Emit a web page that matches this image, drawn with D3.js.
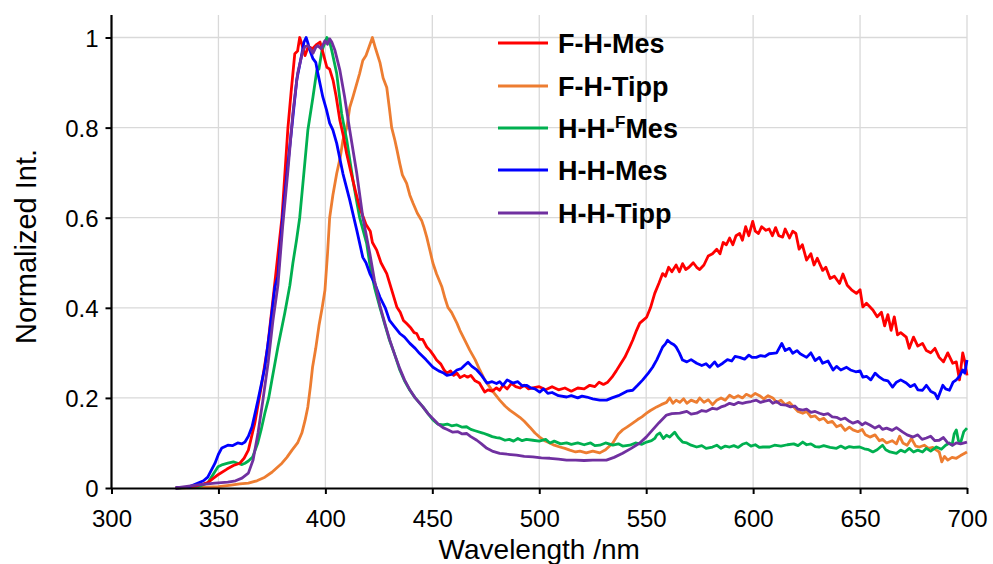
<!DOCTYPE html>
<html><head><meta charset="utf-8">
<script src="https://cdn.jsdelivr.net/npm/d3@7"></script>
<style>body{margin:0;background:#fff}svg{display:block}text{font-family:"Liberation Sans",Arial,sans-serif}</style>
</head><body>
<svg id="c" width="993" height="564"></svg>
<script>
const seriesNames = ["F-H-Mes","F-H-Tipp","H-H-FMes","H-H-Mes","H-H-Tipp"];
const seriesColors = ["#FF0000","#ED7D31","#00B050","#0000FF","#7030A0"];
const xTicks = [300,350,400,450,500,550,600,650,700];
const yTicks = [0,0.2,0.4,0.6,0.8,1];
const yTickLabels = ["0","0.2","0.4","0.6","0.8","1"];

const fhMes = [[330,0],[335,0.002],[340,0.005],[345,0.012],[350,0.03],[354,0.042],[357,0.05],[360,0.055],[362,0.066],[364,0.084],[367,0.144],[370,0.224],[373,0.313],[376,0.44],[379.7,0.60],[382.5,0.80],[384,0.88],[385.7,0.964],[387,0.97],[388,1.0],[389,0.985],[390.5,0.96],[392,0.98],[394,0.975],[396,0.985],[397.5,0.99],[399,0.964],[400.7,0.934],[402,0.93],[403.6,0.905],[405,0.87],[406.8,0.816],[408.5,0.78],[409.9,0.743],[412,0.70],[414,0.66],[416,0.623],[419,0.585],[421,0.57],[422,0.545],[424,0.528],[426,0.50],[428.7,0.476],[431,0.44],[433.4,0.402],[435,0.39],[436.5,0.372],[438,0.365],[440,0.355],[441.5,0.345],[442.7,0.343],[444,0.33],[445.5,0.33],[447.4,0.313],[449,0.305],[450.5,0.295],[452,0.284],[454,0.275],[455.5,0.262],[456.8,0.255],[458.5,0.26],[460,0.25],[461.5,0.255],[463,0.245],[465,0.25],[466.5,0.246],[468,0.25],[470,0.238],[472,0.233],[474.5,0.213],[476,0.218],[478,0.215],[480,0.222],[481.5,0.217],[483,0.228],[485,0.22],[487,0.232],[489,0.225],[491,0.222],[493,0.228],[495,0.22],[497,0.222],[500,0.225],[503,0.218],[506,0.225],[509,0.218],[512,0.222],[515,0.215],[518,0.222],[521,0.22],[523.6,0.228],[526,0.225],[528,0.235],[530,0.23],[532,0.235],[534,0.246],[536,0.26],[538,0.275],[540,0.29],[542,0.31],[543.7,0.328],[545.5,0.35],[547,0.366],[548.5,0.372],[550.2,0.379],[552,0.40],[554,0.432],[556,0.455],[557.7,0.476],[559,0.47],[560.5,0.49],[562,0.48],[564,0.495],[565.5,0.48],[567,0.498],[568.5,0.485],[570,0.49],[572,0.5],[573.6,0.49],[575,0.485],[577,0.495],[579,0.515],[581,0.52],[583,0.53],[584.5,0.52],[586,0.545],[587.5,0.54],[589,0.555],[590.5,0.54],[592,0.56],[593.7,0.565],[595,0.55],[596.5,0.58],[598,0.56],[599.8,0.592],[601,0.57],[602.5,0.565],[604,0.58],[606,0.572],[607.5,0.575],[609,0.56],[610.5,0.578],[612,0.56],[613.8,0.557],[615,0.575],[617,0.555],[618.5,0.57],[620,0.565],[621.5,0.53],[623,0.54],[625,0.506],[627,0.52],[628.5,0.495],[630,0.51],[632.5,0.483],[634,0.49],[636,0.465],[638,0.47],[640.4,0.454],[642,0.475],[644,0.45],[646,0.44],[648.3,0.432],[650,0.44],[651.3,0.402],[653,0.41],[656,0.395],[658,0.38],[660,0.39],[661.5,0.36],[663,0.385],[664.5,0.35],[666,0.38],[667.5,0.34],[669,0.345],[671.6,0.335],[673,0.31],[675,0.335],[677,0.315],[679.2,0.321],[681,0.305],[683,0.3],[685,0.31],[687,0.29],[689,0.28],[691,0.3],[693.3,0.277],[695,0.28],[696.5,0.24],[698,0.3],[699,0.28],[700,0.25]];

const fhTipp = [[330,0],[340,0.001],[350,0.003],[355,0.006],[360,0.009],[364,0.011],[368,0.016],[371.7,0.024],[375,0.035],[379.7,0.055],[382,0.068],[384.4,0.084],[387,0.1],[389,0.122],[390.5,0.15],[391.8,0.18],[393,0.225],[394,0.268],[395.5,0.31],[397,0.36],[398.5,0.40],[399.8,0.439],[401,0.52],[402,0.60],[403.5,0.65],[405.3,0.698],[407,0.735],[408.2,0.772],[410,0.80],[411.4,0.845],[413,0.87],[414.7,0.898],[416,0.92],[417.5,0.949],[419,0.96],[420.5,0.98],[422,1.0],[423.5,0.975],[425.5,0.945],[427,0.91],[428.7,0.889],[430,0.84],[431,0.80],[432.5,0.772],[433.5,0.75],[434.8,0.72],[436,0.695],[438,0.676],[439.5,0.65],[441,0.632],[443,0.61],[445,0.594],[446,0.58],[447.4,0.557],[449,0.525],[450.3,0.499],[452,0.475],[454.5,0.446],[456,0.42],[457.3,0.401],[459,0.39],[461.5,0.366],[462.9,0.35],[465,0.33],[467.5,0.306],[470,0.285],[472.2,0.262],[474.5,0.24],[476.9,0.224],[479,0.21],[481.5,0.195],[484,0.182],[486.2,0.173],[488.5,0.165],[490.9,0.157],[493,0.148],[495.6,0.135],[498,0.122],[500.2,0.113],[502.5,0.105],[504.9,0.10],[507,0.095],[509.6,0.091],[512,0.088],[514.3,0.084],[517,0.08],[519,0.082],[522,0.078],[525,0.082],[528.3,0.078],[531,0.085],[534.4,0.1],[537,0.12],[539,0.129],[541,0.135],[543.7,0.144],[546,0.152],[548,0.158],[550.2,0.166],[552,0.172],[554.9,0.18],[557,0.185],[559.5,0.19],[561,0.2],[562.5,0.188],[564,0.195],[565.7,0.19],[567.5,0.198],[569,0.188],[571,0.195],[573.6,0.19],[575,0.2],[577,0.19],[579,0.196],[581,0.185],[583,0.195],[585,0.2],[587,0.195],[589,0.206],[591,0.2],[593,0.205],[595,0.2],[596.8,0.208],[599,0.203],[601,0.21],[603,0.205],[605,0.198],[607,0.205],[609.2,0.2],[611,0.19],[613,0.195],[615,0.185],[617,0.19],[619,0.18],[621,0.17],[623.2,0.166],[625,0.17],[627,0.158],[629,0.16],[631,0.151],[633,0.155],[635,0.145],[637,0.148],[639,0.136],[641,0.14],[643,0.128],[645,0.135],[646.7,0.129],[649,0.125],[651,0.13],[652.5,0.118],[654.6,0.113],[657,0.118],[659,0.105],[660.5,0.108],[662.4,0.10],[665,0.105],[667,0.098],[668.5,0.115],[670,0.1],[672,0.095],[674,0.11],[676,0.093],[677.8,0.091],[680,0.095],[682,0.088],[684,0.09],[685.7,0.084],[687,0.08],[688.2,0.058],[689.5,0.07],[691,0.062],[693,0.068],[695,0.066],[697,0.072],[700,0.08]];

const hhFMes = [[330,0],[340,0.002],[345,0.011],[347.5,0.03],[349.8,0.047],[352,0.052],[354.4,0.055],[357,0.058],[359,0.055],[361,0.052],[362.4,0.055],[364,0.06],[366,0.069],[368.4,0.10],[370,0.13],[371.7,0.166],[373.5,0.2],[375,0.24],[377.8,0.313],[381,0.388],[383.4,0.45],[384.8,0.499],[386.5,0.55],[388,0.6],[389.5,0.676],[391.8,0.794],[394.2,0.868],[396,0.927],[397,0.93],[398.4,0.971],[399.5,0.985],[400.7,1.0],[402,0.99],[403,0.971],[405.3,0.92],[407.6,0.831],[410,0.772],[412.9,0.683],[414.5,0.64],[416,0.601],[419.3,0.543],[421,0.49],[423,0.445],[425.5,0.401],[428,0.36],[430,0.328],[432.5,0.295],[434.8,0.262],[437,0.238],[439.5,0.217],[442,0.2],[445.6,0.18],[448,0.165],[450.3,0.151],[452.5,0.142],[455,0.14],[457,0.142],[459,0.138],[461.5,0.14],[464,0.135],[466,0.136],[468,0.13],[470,0.127],[473.6,0.122],[476,0.118],[478,0.114],[480,0.112],[481.5,0.111],[484,0.106],[486,0.108],[488,0.104],[490,0.11],[492,0.105],[494,0.108],[497,0.106],[500,0.104],[503,0.108],[505,0.1],[507,0.104],[510,0.098],[512.8,0.1],[515,0.097],[518,0.1],[521,0.096],[524,0.1],[526,0.094],[528.3,0.095],[531,0.1],[534.4,0.095],[537,0.098],[539,0.093],[542.3,0.095],[545,0.1],[548,0.097],[550.2,0.102],[552.5,0.105],[554,0.11],[555,0.118],[556.4,0.122],[558,0.11],[559.5,0.117],[561,0.113],[563.3,0.124],[565,0.112],[567,0.102],[569,0.1],[571,0.095],[573.6,0.091],[576,0.094],[578,0.088],[581,0.091],[583,0.095],[585,0.088],[587,0.093],[589,0.091],[591,0.094],[593,0.09],[595,0.097],[596.8,0.10],[599,0.093],[601,0.096],[603,0.09],[604.6,0.091],[607.7,0.091],[610,0.095],[613,0.093],[616,0.096],[619,0.098],[621,0.094],[623.2,0.102],[625,0.096],[627,0.098],[629,0.092],[631,0.091],[633,0.094],[636,0.09],[639,0.088],[641,0.093],[643,0.088],[645,0.092],[647,0.09],[649.8,0.091],[652,0.087],[654,0.085],[656,0.08],[658,0.085],[660.5,0.095],[662,0.085],[664,0.08],[667,0.077],[669,0.084],[671,0.08],[673,0.088],[675,0.08],[677,0.084],[679.2,0.08],[681,0.088],[683,0.082],[685.7,0.091],[688,0.086],[690,0.095],[691.8,0.10],[693,0.095],[694,0.12],[695,0.129],[696,0.105],[697,0.1],[698.5,0.125],[700,0.133]];

const hhMes = [[330,0],[336,0.002],[340.5,0.011],[343,0.016],[345,0.024],[348.4,0.055],[350,0.075],[351.6,0.089],[354.4,0.095],[356.5,0.094],[359,0.10],[361,0.098],[362.4,0.102],[364,0.115],[365.7,0.136],[368.5,0.195],[371.7,0.268],[374,0.35],[376.4,0.446],[377.8,0.47],[380,0.6],[382.5,0.72],[384.8,0.823],[386.6,0.905],[389,0.964],[390,0.99],[391,1.0],[392,0.985],[392.8,0.971],[394.2,0.953],[395.5,0.945],[396.5,0.92],[398.8,0.868],[400.5,0.84],[402,0.81],[403.5,0.795],[405.3,0.765],[408.2,0.698],[411.4,0.639],[414.7,0.572],[417.5,0.512],[419,0.50],[420.8,0.476],[423,0.455],[425.5,0.424],[428,0.40],[430,0.372],[432,0.36],[434.8,0.343],[437,0.335],[439.5,0.321],[442,0.31],[444,0.299],[447,0.285],[450.3,0.268],[453,0.26],[455,0.256],[456.8,0.25],[459,0.252],[461.5,0.262],[463.5,0.265],[465,0.272],[466.7,0.279],[468.5,0.27],[470.8,0.262],[473,0.25],[475.5,0.233],[478,0.236],[480,0.232],[481.5,0.236],[483,0.228],[485,0.24],[487.6,0.233],[490,0.236],[492,0.227],[494.2,0.228],[496,0.222],[498,0.22],[500.2,0.213],[502,0.22],[504,0.21],[506,0.212],[509,0.205],[512.8,0.202],[515,0.205],[518,0.2],[520,0.204],[522.2,0.202],[525,0.198],[528.3,0.195],[531.5,0.195],[534,0.2],[537,0.205],[539,0.21],[541,0.215],[543.7,0.217],[546,0.228],[548.4,0.24],[551,0.255],[553,0.268],[555,0.285],[557.7,0.313],[559,0.32],[560,0.328],[561.5,0.322],[563,0.318],[564,0.313],[565.5,0.3],[567,0.284],[569,0.28],[571,0.285],[573.6,0.277],[576,0.272],[578,0.276],[579.7,0.268],[582,0.28],[583.5,0.27],[585.8,0.277],[588,0.285],[590,0.282],[591.5,0.292],[593.7,0.29],[596,0.286],[598,0.295],[599.5,0.29],[601.5,0.29],[603.5,0.294],[605.5,0.292],[607.5,0.298],[609.2,0.299],[611,0.3],[613.4,0.321],[615,0.305],[617,0.31],[618.5,0.299],[620.5,0.305],[622,0.298],[625,0.29],[627,0.3],[629,0.283],[631,0.29],[632.5,0.277],[635,0.282],[637.4,0.262],[639,0.27],[641,0.262],[643.7,0.268],[645.5,0.262],[648,0.258],[650,0.26],[651.3,0.246],[653,0.248],[655,0.24],[657,0.255],[659.1,0.246],[661,0.24],[663,0.238],[665.2,0.224],[667,0.235],[669,0.24],[671.6,0.233],[673.5,0.225],[675.5,0.23],[677,0.218],[679.2,0.217],[681,0.228],[683,0.215],[685,0.21],[686.3,0.198],[688.7,0.228],[690,0.22],[691.8,0.217],[693.5,0.235],[695,0.24],[696.5,0.248],[698,0.262],[699,0.255],[700,0.284]];

const hhTipp = [[330,0],[340.5,0.007],[348.4,0.011],[354.4,0.013],[358,0.016],[361,0.022],[364,0.033],[366.2,0.062],[368.5,0.122],[370.8,0.195],[373.2,0.277],[375.5,0.372],[377.8,0.45],[380,0.579],[382.5,0.705],[384.8,0.831],[387,0.92],[389.5,0.971],[390.5,0.98],[391.8,0.982],[393,0.975],[394.2,0.965],[395.5,0.978],[396.5,0.982],[398,0.975],[399.8,0.993],[401,0.985],[402,0.997],[403,0.99],[404.5,0.971],[406.8,0.927],[409,0.868],[411.4,0.794],[414.7,0.698],[417.5,0.601],[420.8,0.52],[423,0.46],[425.5,0.405],[428,0.362],[430,0.33],[432.5,0.295],[434.8,0.265],[437,0.24],[439.5,0.218],[442,0.2],[445.6,0.18],[448,0.165],[450.3,0.154],[452.5,0.143],[455,0.134],[457,0.13],[459.6,0.124],[462,0.125],[464,0.12],[466,0.121],[468,0.114],[470.8,0.106],[473,0.098],[475.5,0.088],[478,0.082],[481.5,0.077],[485,0.075],[489.4,0.073],[493,0.07],[497,0.069],[501,0.067],[505,0.066],[509,0.064],[512.8,0.062],[517,0.062],[521,0.061],[525,0.062],[528.3,0.062],[531.4,0.062],[535,0.068],[539,0.077],[543,0.088],[547,0.10],[550,0.113],[553,0.129],[556,0.145],[559.5,0.162],[562,0.165],[565.7,0.166],[569,0.17],[571,0.164],[573.6,0.166],[576,0.172],[578,0.17],[581,0.177],[583,0.175],[585,0.18],[587,0.183],[589,0.188],[591,0.185],[593,0.19],[595,0.188],[596.8,0.19],[599,0.192],[601.5,0.195],[603.5,0.19],[605.5,0.193],[607.7,0.195],[609.2,0.188],[611,0.192],[613,0.185],[615.5,0.184],[617.5,0.18],[619.5,0.182],[621,0.175],[623.2,0.173],[625,0.175],[627,0.168],[629,0.17],[631,0.166],[633,0.163],[635,0.165],[637,0.158],[639,0.157],[641,0.152],[643,0.155],[645,0.148],[646.7,0.144],[649,0.148],[651,0.14],[652.5,0.145],[654.6,0.14],[657,0.133],[659,0.138],[660.5,0.13],[662.4,0.133],[665,0.128],[667,0.134],[670,0.124],[672,0.118],[674.8,0.113],[677,0.118],[679,0.108],[681,0.111],[683,0.115],[685,0.105],[687,0.106],[689,0.112],[691,0.1],[693.4,0.095],[695,0.1],[697,0.098],[700,0.102]];

const seriesData = [fhMes, fhTipp, hhFMes, hhMes, hhTipp];

const svg = d3.select("#c");
const L = 111.5, R = 967, T = 15, B = 488;
const x = d3.scaleLinear().domain([300,700]).range([L,R]);
const y = d3.scaleLinear().domain([0,1.05]).range([B,T]);

// grid
const g = svg.append("g");
g.selectAll("line.h").data(yTicks.slice(1)).join("line")
  .attr("x1",L).attr("x2",R).attr("y1",d=>y(d)).attr("y2",d=>y(d))
  .attr("stroke","#d9d9d9").attr("stroke-width",1.3);
g.selectAll("line.v").data(xTicks.slice(1)).join("line")
  .attr("x1",d=>x(d)).attr("x2",d=>x(d)).attr("y1",T).attr("y2",B)
  .attr("stroke","#d9d9d9").attr("stroke-width",1.3);

// lines
const line = d3.line().x(d=>x(d[0])).y(d=>y(d[1]));
const order = [1,2,0,3,4];
order.forEach(i=>{
  svg.append("path").datum(seriesData[i]).attr("d",line)
    .attr("fill","none").attr("stroke",seriesColors[i]).attr("stroke-width",2.8)
    .attr("stroke-linejoin","round");
});

// axes
const xAxis = d3.axisBottom(x).tickValues(xTicks).tickSize(6).tickSizeOuter(0);
const yAxis = d3.axisLeft(y).tickValues(yTicks).tickSize(6).tickSizeOuter(0).tickFormat((d,i)=>yTickLabels[i]);
const xa = svg.append("g").attr("transform",`translate(0,${B})`).call(xAxis);
const ya = svg.append("g").attr("transform",`translate(${L},0)`).call(yAxis);
[xa,ya].forEach(a=>{
  a.select(".domain").attr("stroke","#000").attr("stroke-width",2.2);
  a.selectAll(".tick line").attr("stroke","#000").attr("stroke-width",2);
  a.selectAll(".tick text").attr("font-family","Liberation Sans, Arial, sans-serif").attr("font-size",24).attr("fill","#000");
});
ya.select(".domain").attr("d",`M0,${B}V${T}`);
xa.selectAll(".tick text").attr("dy",0).attr("y",39);
ya.selectAll(".tick text").attr("x",-13).attr("dy","0.36em");

// axis titles
svg.append("text").attr("x",(L+R)/2).attr("y",559).attr("text-anchor","middle")
  .attr("font-size",28).text("Wavelength /nm");
svg.append("text").attr("transform",`translate(36,${(T+B)/2-5}) rotate(-90)`).attr("text-anchor","middle")
  .attr("font-size",29).text("Normalized Int.");

// legend
const legY = [43,86,128,170,213];
seriesNames.forEach((n,i)=>{
  svg.append("line").attr("x1",498).attr("x2",548).attr("y1",legY[i]).attr("y2",legY[i])
    .attr("stroke",seriesColors[i]).attr("stroke-width",2.8);
  const t = svg.append("text").attr("x",558).attr("y",legY[i]+9.5).attr("font-size",27).attr("font-weight","bold").attr("fill","#000");
  if(n==="H-H-FMes"){
    t.append("tspan").text("H-H-");
    t.append("tspan").attr("font-size",17).attr("dy",-10).text("F");
    t.append("tspan").attr("dy",10).text("Mes");
  } else t.text(n);
});
</script>
</body></html>
